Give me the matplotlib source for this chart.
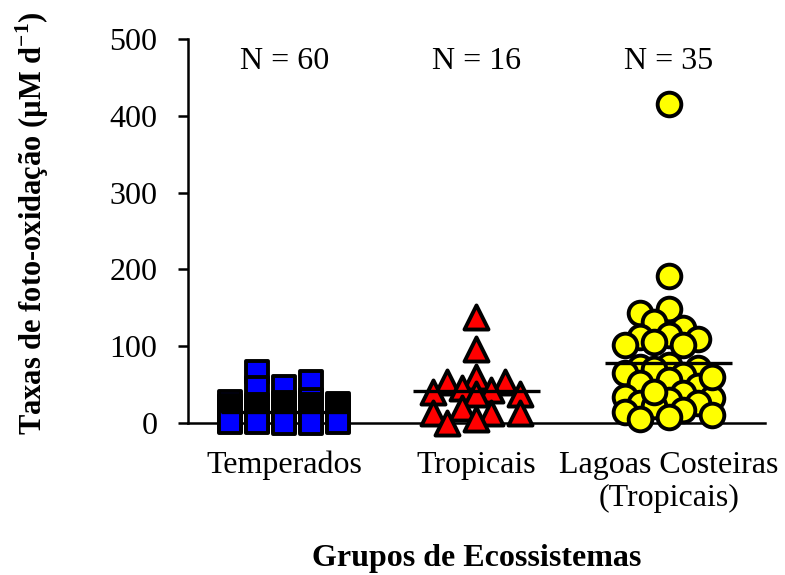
import numpy as np
import matplotlib.pyplot as plt

plt.rcParams['font.family'] = 'Liberation Serif'
plt.rcParams['mathtext.fontset'] = 'custom'
plt.rcParams['mathtext.rm'] = 'Liberation Serif'
plt.rcParams['mathtext.bf'] = 'Liberation Serif:bold'

# Taxas de foto-oxidação por grupo de ecossistema (µM/d)
grupos = ['Temperados', 'Tropicais', 'Lagoas Costeiras\n(Tropicais)']
temperados = [66, 53, 47, 45, 30, 27, 26, 22,
              25, 24, 23, 22, 21, 20, 19, 18, 18, 17, 17, 16, 16, 15, 15, 14,
              14, 13, 13, 12, 12, 11, 11, 10, 10, 10, 9, 9, 8, 8, 7, 7,
              7, 6, 6, 5, 5, 5, 4, 4, 4, 3, 3, 3, 2, 2, 2, 1, 1, 1, 0, 0]
tropicais = [138, 97, 60, 54, 54, 45, 43, 40, 38, 38, 19, 13, 13, 13, 5, 0]
lagoas = [415, 192, 148, 143, 131, 124, 115, 112, 110, 106, 102, 102,
          75, 73, 71, 70, 65, 62, 56, 52, 48, 39, 34, 32, 30, 26, 26, 22,
          17, 14, 10, 8, 5, 40, 60]

fig = plt.figure(figsize=(7.85, 5.75), dpi=100)
ax = fig.add_axes([0.2395, 0.2643, 0.735, 0.668])
ax.set_xlim(0.5, 3.5)
ax.set_ylim(0, 500)


def swarm(values, xc, step_px, ks, min_px):
    """Espalha os pontos lateralmente para reduzir a sobreposição."""
    tr = ax.transData
    px_x = tr.transform((1, 0))[0] - tr.transform((0, 0))[0]
    placed = []
    offs = np.zeros(len(values))
    for i in np.argsort(values)[::-1]:
        x0, y0 = tr.transform((xc, values[i]))
        best, best_d = 0, -1
        for k in ks:
            x = x0 + k * step_px
            d = min([np.hypot(x - px, y0 - py) for px, py in placed] or [1e9])
            if d >= min_px:
                best = k
                break
            if d > best_d:
                best, best_d = k, d
        placed.append((x0 + best * step_px, y0))
        offs[i] = best * step_px / px_x
    return xc + offs


colunas3 = [0, -1, 1, -2, 2, -3, 3]
estilos = [
    (temperados, 's', '#0000ff', 260, 27, [-1, 1, 0, -2, 2], 16),
    (tropicais, '^', '#ff0000', 300, 14.5, colunas3, 17),
    (lagoas, 'o', '#ffff00', 290, 14.5, colunas3, 16),
]

for i, (vals, mk, cor, s, step, ks, dmin) in enumerate(estilos):
    xc = i + 1
    xs = swarm(vals, xc, step, ks, dmin)
    ax.scatter(xs, vals, marker=mk, s=s, c=cor, edgecolors='black',
               linewidths=2.8, zorder=3, clip_on=False)
    media = np.mean(vals)
    ax.plot([xc - 0.33, xc + 0.33], [media, media], color='black',
            lw=2.4, zorder=4, solid_capstyle='butt')
    ax.text(xc, 470, f'N = {len(vals)}', ha='center', va='center',
            fontsize=23)

ax.spines['top'].set_visible(False)
ax.spines['right'].set_visible(False)
ax.spines['left'].set_linewidth(1.8)
ax.spines['bottom'].set_linewidth(1.8)

ax.set_xticks([1, 2, 3])
ax.set_xticklabels(grupos, fontsize=23)
ax.tick_params(axis='x', length=0, pad=20)
ax.set_yticks(np.arange(0, 501, 100))
ax.tick_params(axis='y', length=7, width=1.8, pad=15, labelsize=23)

ax.set_ylabel(r'Taxas de foto-oxidação (µM d$^{\mathbf{-1}}$)',
              fontsize=22, fontweight='bold', labelpad=42)
ax.yaxis.label.set_y(0.52)
ax.set_xlabel('Grupos de Ecossistemas', fontsize=23, fontweight='bold',
              labelpad=22)

fig.savefig('out.png', dpi=100)
